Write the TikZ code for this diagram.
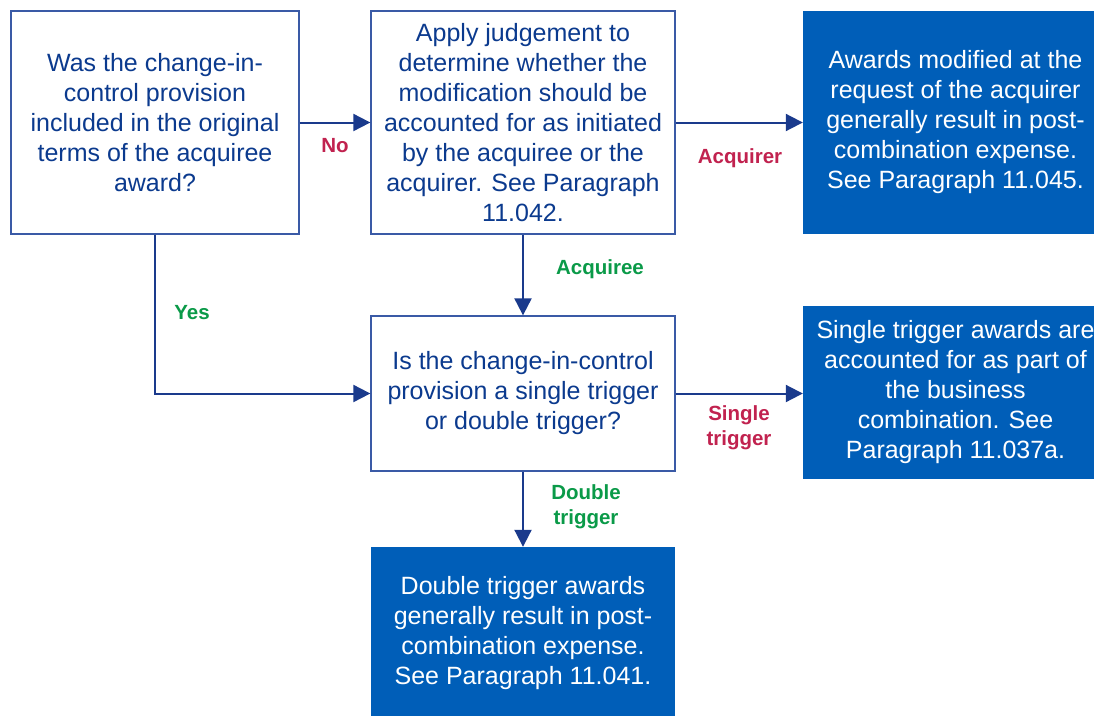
\documentclass[tikz,border=0pt]{standalone}
\usepackage{fontspec}
\setmainfont{Liberation Sans}
\usetikzlibrary{arrows.meta}
\definecolor{txtblue}{HTML}{0B3A8E}
\definecolor{bordblue}{HTML}{3A5AA6}
\definecolor{arrblue}{HTML}{1A3A8C}
\definecolor{fillblue}{HTML}{005EB8}
\definecolor{lblred}{HTML}{C1224F}
\definecolor{lblgreen}{HTML}{0A9A48}
\tikzset{
  qbox/.style={draw=bordblue, line width=1.3pt, fill=white, text=txtblue, align=center,
    inner sep=0pt, font=\fontsize{25}{30}\selectfont},
  abox/.style={fill=fillblue, text=white, align=center, inner sep=0pt,
    font=\fontsize{25}{30}\selectfont},
  conn/.style={draw=arrblue, line width=2pt, -{Triangle[length=17pt,width=17pt]}},
  lblr/.style={text=lblred, align=center, font=\fontsize{20.5}{25}\selectfont\bfseries},
  lblg/.style={text=lblgreen, align=center, font=\fontsize{20.5}{25}\selectfont\bfseries},
}
\begin{document}
\begin{tikzpicture}[x=1pt,y=-1pt]
\useasboundingbox (0,0) rectangle (1094,715);
\clip (0,0) rectangle (1094,715);
\fill[white] (0,0) rectangle (1094,715);

\node[qbox, minimum width=288pt, minimum height=223pt] (q1) at (155,122.5)
  {Was the change-in-\\control provision\\included in the original\\terms of the acquiree\\award?};
\node[qbox, minimum width=304pt, minimum height=223pt] (judge) at (523,122.5)
  {Apply judgement to\\determine whether the\\modification should be\\accounted for as initiated\\by the acquiree or the\\acquirer. See Paragraph\\11.042.};
\node[abox, minimum width=305pt, minimum height=223pt] (acqr) at (955.5,122.5)
  {Awards modified at the\\request of the acquirer\\generally result in post-\\combination expense.\\See Paragraph 11.045.};
\node[qbox, minimum width=304pt, minimum height=155pt] (trig) at (523,393.5)
  {Is the change-in-control\\provision a single trigger\\or double trigger?};
\node[abox, minimum width=305pt, minimum height=173pt] (single) at (955.5,392.5)
  {Single trigger awards are\\accounted for as part of\\the business\\combination. See\\Paragraph 11.037a.};
\node[abox, minimum width=304pt, minimum height=172pt] (double) at (523,633)
  {Double trigger awards\\generally result in post-\\combination expense.\\See Paragraph 11.041.};

\draw[conn] (q1.east) -- (judge.west);
\draw[conn] (judge.east) -- (acqr.west);
\draw[conn] (judge.south) -- (trig.north);
\draw[conn] (q1.south) |- (trig.west);
\draw[conn] (trig.east) -- (single.west |- trig.east);
\draw[conn] (trig.south) -- (double.north);

\node[lblr] (lno) at (335,146) {No};
\node[lblr] (lacqr) at (740,158) {Acquirer};
\node[lblg] (lacqe) at (600,269) {Acquiree};
\node[lblg] (lyes) at (192,313) {Yes};
\node[lblr] (lsingle) at (739,428) {Single\\trigger};
\node[lblg] (ldouble) at (586,507) {Double\\trigger};
\end{tikzpicture}
\end{document}
